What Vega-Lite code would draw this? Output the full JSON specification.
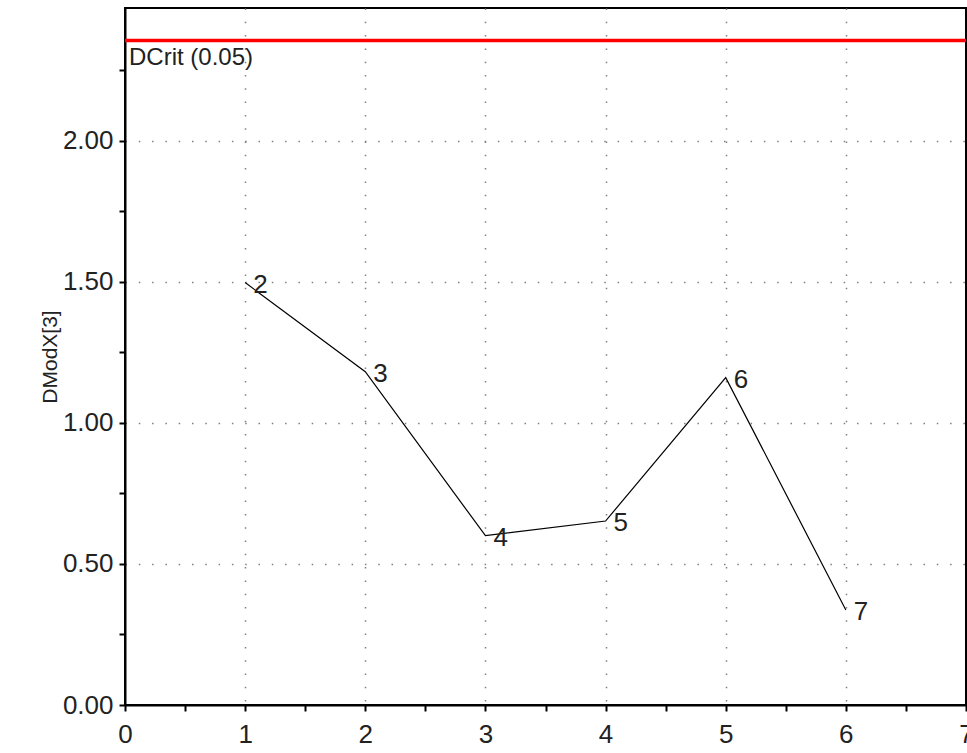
{
  "$schema": "https://vega.github.io/schema/vega-lite/v6.json",
  "width": 841,
  "height": 697,
  "autosize": {"type": "none"},
  "padding": {"left": 125, "top": 8, "right": 1, "bottom": 48},
  "background": "white",
  "config": {
    "view": {"stroke": "black", "strokeWidth": 2},
    "font": "Liberation Sans",
    "axis": {
      "labelFont": "Liberation Sans",
      "titleFont": "Liberation Sans",
      "labelColor": "#222",
      "titleColor": "#222",
      "domainColor": "black",
      "domainWidth": 2,
      "tickColor": "black",
      "tickWidth": 2,
      "tickSize": 6,
      "labelFlush": false,
      "labelOverlap": false,
      "labelBound": false,
      "gridDash": [1.5, 11.8],
      "gridWidth": 1.5
    }
  },
  "datasets": {
    "pts": [
      {"x": 1, "y": 1.497, "lab": "2"},
      {"x": 2, "y": 1.181, "lab": "3"},
      {"x": 3, "y": 0.60, "lab": "4"},
      {"x": 4, "y": 0.652, "lab": "5"},
      {"x": 5, "y": 1.16, "lab": "6"},
      {"x": 6, "y": 0.337, "lab": "7"}
    ],
    "crit": [{"x": 0, "y": 2.355, "lab": "DCrit (0.05)"}]
  },
  "layer": [
    {
      "data": {"name": "pts"},
      "mark": {"type": "line", "color": "black", "strokeWidth": 1.2},
      "encoding": {
        "x": {
          "field": "x", "type": "quantitative",
          "scale": {"domain": [0, 7], "nice": false, "zero": false},
          "axis": {
            "title": null,
            "values": [0, 0.5, 1, 1.5, 2, 2.5, 3, 3.5, 4, 4.5, 5, 5.5, 6, 6.5, 7],
            "labelExpr": "datum.value % 1 === 0 ? format(datum.value, 'd') : ''",
            "labelFontSize": 26,
            "labelPadding": 10,
            "gridOpacity": {"condition": {"test": "datum.value % 1 === 0 && datum.value > 0 && datum.value < 7", "value": 1}, "value": 0},
            "gridColor": "#808080"
          }
        },
        "y": {
          "field": "y", "type": "quantitative",
          "scale": {"domain": [0, 2.47], "nice": false, "zero": false},
          "axis": {
            "title": "DModX[3]",
            "titleFontSize": 21,
            "titleFontWeight": "normal",
            "titlePadding": 2,
            "values": [0, 0.25, 0.5, 0.75, 1, 1.25, 1.5, 1.75, 2, 2.25],
            "labelExpr": "datum.value % 0.5 === 0 ? format(datum.value, '.2f') : ''",
            "labelFontSize": 26,
            "labelPadding": 6,
            "gridOpacity": {"condition": {"test": "datum.value % 0.5 === 0 && datum.value > 0", "value": 1}, "value": 0},
            "gridColor": "#808080"
          }
        }
      }
    },
    {
      "data": {"name": "pts"},
      "mark": {"type": "text", "align": "left", "baseline": "middle", "dx": 8, "dy": 2, "fontSize": 26, "color": "#222", "font": "Liberation Sans"},
      "encoding": {
        "x": {"field": "x", "type": "quantitative"},
        "y": {"field": "y", "type": "quantitative"},
        "text": {"field": "lab"}
      }
    },
    {
      "data": {"name": "crit"},
      "mark": {"type": "rule", "color": "#ff0000", "strokeWidth": 3.5},
      "encoding": {
        "y": {"field": "y", "type": "quantitative"}
      }
    },
    {
      "data": {"name": "crit"},
      "mark": {"type": "text", "align": "left", "baseline": "top", "dx": 4, "dy": 6, "fontSize": 24, "color": "#222", "font": "Liberation Sans"},
      "encoding": {
        "x": {"field": "x", "type": "quantitative"},
        "y": {"field": "y", "type": "quantitative"},
        "text": {"field": "lab"}
      }
    }
  ]
}
